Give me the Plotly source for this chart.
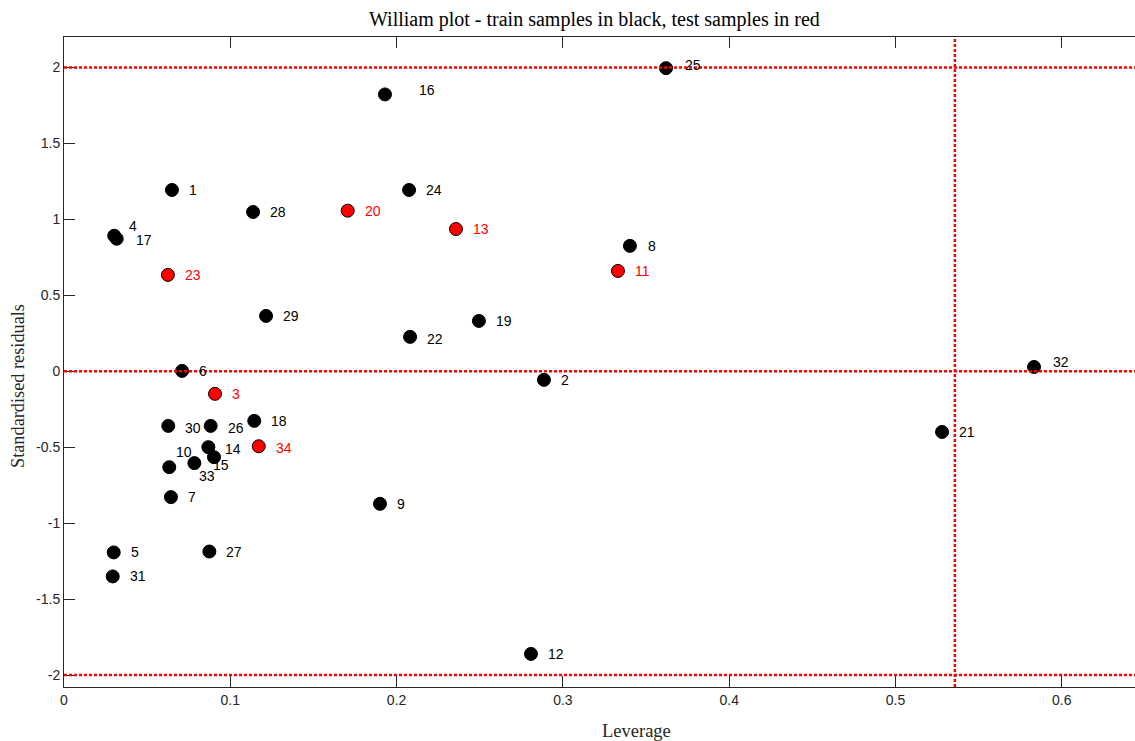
import plotly.graph_objects as go

# ---- data ----
train_ids = [1, 2, 4, 5, 6, 7, 8, 9, 10, 12, 14, 15, 16, 17, 18, 19, 21, 22,
             24, 25, 26, 27, 28, 29, 30, 31, 32, 33]
train_lev = [0.0649, 0.2886, 0.0302, 0.0299, 0.0710, 0.0643, 0.3403, 0.1900,
             0.0633, 0.2808, 0.0868, 0.0902, 0.1930, 0.0317, 0.1144, 0.2495,
             0.5280, 0.2081, 0.2075, 0.3620, 0.0882, 0.0874, 0.1137, 0.1215,
             0.0627, 0.0293, 0.5833, 0.0784]
train_res = [1.193, -0.057, 0.892, -1.193, 0.002, -0.829, 0.825, -0.873,
             -0.632, -1.861, -0.500, -0.566, 1.822, 0.872, -0.327, 0.331,
             -0.400, 0.226, 1.193, 1.995, -0.360, -1.187, 1.048, 0.364,
             -0.360, -1.351, 0.028, -0.605]

test_ids = [3, 11, 13, 20, 23, 34]
test_lev = [0.0908, 0.3331, 0.2357, 0.1706, 0.0625, 0.1171]
test_res = [-0.149, 0.660, 0.936, 1.057, 0.634, -0.494]

h_star = 0.5357
res_limits = [2, 0, -2]

x_ticks = [0, 0.1, 0.2, 0.3, 0.4, 0.5, 0.6]
x_tick_text = ["0", "0.1", "0.2", "0.3", "0.4", "0.5", "0.6"]
y_ticks = [-2, -1.5, -1, -0.5, 0, 0.5, 1, 1.5, 2]
y_tick_text = ["-2", "-1.5", "-1", "-0.5", "0", "0.5", "1", "1.5", "2"]

# label pixel offsets (dx right, dy down) relative to marker centre
default_off = (15, 0)
label_off = {4: (13, -10), 17: (17, 1), 25: (17, -3), 32: (17, -5), 16: (32, -4),
             15: (-3, 8), 33: (3, 13), 10: (5, -15), 30: (15, 2), 26: (15, 2),
             34: (15, 2), 14: (15, 2), 22: (15, 2), 8: (16, 0), 2: (15, 0)}

AX = "#262626"
fig = go.Figure()

fig.add_trace(go.Scatter(x=train_lev, y=train_res, mode="markers",
                         marker=dict(size=13, color="black",
                                     line=dict(color="black", width=1)),
                         showlegend=False, hoverinfo="skip"))
fig.add_trace(go.Scatter(x=test_lev, y=test_res, mode="markers",
                         marker=dict(size=13, color="#ff0000",
                                     line=dict(color="black", width=1)),
                         showlegend=False, hoverinfo="skip"))

annotations = []
for ids, xs, ys, col in [(train_ids, train_lev, train_res, "black"),
                         (test_ids, test_lev, test_res, "#ff0000")]:
    for i, xv, yv in zip(ids, xs, ys):
        dx, dy = label_off.get(i, default_off)
        annotations.append(dict(x=xv, y=yv, xref="x", yref="y", text=str(i),
                                showarrow=False, xanchor="left", yanchor="middle",
                                xshift=dx, yshift=-dy,
                                font=dict(family="Liberation Sans, Arial", size=14,
                                          color=col)))

# shapes: red dotted limits
shapes = []
for r in res_limits:
    shapes.append(dict(type="line", xref="paper", yref="y", x0=0, x1=1, y0=r, y1=r,
                       line=dict(color="#ff0000", width=2.5, dash="3px,2px"),
                       layer="above"))
shapes.append(dict(type="line", xref="x", yref="paper", x0=h_star, x1=h_star,
                   y0=0, y1=1,
                   line=dict(color="#ff0000", width=2.5, dash="3px,2px"),
                   layer="above"))

W, H = 1135, 741
L, R, T = 64, 0, 37
B = H - 687
pw, ph = W - L - R, H - T - B

def px2paper(px, py):
    return (px - L) / pw, (H - B - py) / ph

tx, ty = px2paper(594, 20)
annotations.append(dict(x=tx, y=ty, xref="paper", yref="paper",
                        text="William plot - train samples in black, test samples in red",
                        showarrow=False, xanchor="center", yanchor="middle",
                        font=dict(family="Liberation Serif, serif", size=20, color="black")))
lx, ly = px2paper(636, 731)
annotations.append(dict(x=lx, y=ly, xref="paper", yref="paper", text="Leverage",
                        showarrow=False, xanchor="center", yanchor="middle",
                        font=dict(family="Liberation Serif, serif", size=18.5, color=AX)))
sx, sy = px2paper(18, 386)
annotations.append(dict(x=sx, y=sy, xref="paper", yref="paper",
                        text="Standardised residuals", textangle=-90,
                        showarrow=False, xanchor="center", yanchor="middle",
                        font=dict(family="Liberation Serif, serif", size=18.3, color=AX)))

x_max = (W - L) / 1663.0

fig.update_layout(
    width=W, height=H,
    margin=dict(l=L, r=R, t=T, b=B),
    paper_bgcolor="white", plot_bgcolor="white",
    shapes=shapes, annotations=annotations,
    xaxis=dict(range=[0, x_max], tickmode="array", tickvals=x_ticks,
               ticktext=x_tick_text, ticks="inside", ticklen=11, tickcolor=AX,
               showline=True, linecolor=AX, linewidth=1, mirror="ticks",
               showgrid=False, zeroline=False,
               tickfont=dict(family="Liberation Sans, Arial", size=14, color=AX)),
    yaxis=dict(range=[-2.079, 2.2], tickmode="array", tickvals=y_ticks,
               ticktext=y_tick_text, ticks="inside", ticklen=11, tickcolor=AX,
               showline=True, linecolor=AX, linewidth=1, mirror=False,
               showgrid=False, zeroline=False,
               tickfont=dict(family="Liberation Sans, Arial", size=14, color=AX)),
)

fig.write_html("out.html",
               config={"displayModeBar": False},
               post_script="document.body.style.margin='0';"
                           "document.body.style.overflow='hidden';")
